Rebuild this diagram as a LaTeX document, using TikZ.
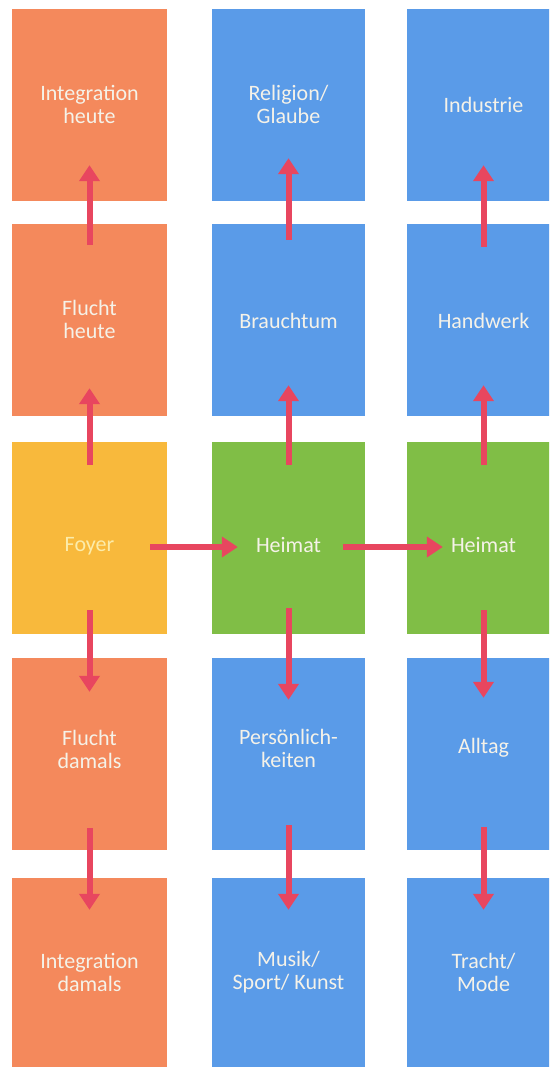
\documentclass[tikz,border=0pt]{standalone}
\usepackage{fontspec}
\setmainfont{Carlito}
\usetikzlibrary{arrows.meta,calc}

\definecolor{boxorange}{RGB}{244,137,92}
\definecolor{boxblue}{RGB}{90,155,232}
\definecolor{boxgreen}{RGB}{128,190,70}
\definecolor{boxyellow}{RGB}{248,185,60}
\definecolor{arrowred}{RGB}{232,70,95}
\definecolor{labelwhite}{RGB}{245,242,232}
\definecolor{labelpale}{RGB}{252,236,170}

\tikzset{
  box/.style={rectangle, draw=none, fill=#1, inner sep=0pt,
              minimum width=153pt, minimum height=192pt},
  txt/.style={text=labelwhite, align=center, inner sep=0pt,
              font=\fontsize{22}{23}\selectfont},
  link/.style={draw=arrowred, line width=6pt,
               -{Triangle[width=20pt,length=16pt]}}
}

\begin{document}
\begin{tikzpicture}[x=1pt,y=-1pt]
  \clip (0,0) rectangle (549,1067);
  \fill[white] (0,0) rectangle (549,1067);

  % left column: Flucht / Integration
  \node[box=boxorange, minimum width=155pt] (ih) at (89.5,105) {};
  \node[box=boxorange, minimum width=155pt] (fh) at (89.5,320) {};
  \node[box=boxyellow, minimum width=155pt] (foyer) at (89.5,537.5) {};
  \node[box=boxorange, minimum width=155pt] (fd) at (89.5,754) {};
  \node[box=boxorange, minimum width=155pt] (id) at (89.5,974) {};

  % middle column
  \node[box=boxblue]  (rg) at (288.5,105) {};
  \node[box=boxblue]  (br) at (288.5,320) {};
  \node[box=boxgreen] (h1) at (288.5,537.5) {};
  \node[box=boxblue]  (pk) at (288.5,754) {};
  \node[box=boxblue]  (ms) at (288.5,974) {};

  % right column (runs past the right edge)
  \node[box=boxblue]  (ind) at (483.5,105) {};
  \node[box=boxblue]  (hw)  at (483.5,320) {};
  \node[box=boxgreen] (h2)  at (483.5,537.5) {};
  \node[box=boxblue]  (al)  at (483.5,754) {};
  \node[box=boxblue]  (tr)  at (483.5,974) {};

  % labels
  \node[txt] (ihT) at (89.5,104) {Integration\\heute};
  \node[txt] (fhT) at (89.5,319) {Flucht\\heute};
  \node[txt, text=labelpale] (foyerT) at (89.5,546) {Foyer};
  \node[txt] (fdT) at (89.5,749) {Flucht\\damals};
  \node[txt] (idT) at (89.5,972) {Integration\\damals};

  \node[txt] (rgT) at (288.5,104) {Religion/\\Glaube};
  \node[txt] (brT) at (288.5,321) {Brauchtum};
  \node[txt] (h1T) at (288.5,545) {Heimat};
  \node[txt] (pkT) at (288.5,748) {Persönlich-\\keiten};
  \node[txt] (msT) at (288.5,972) {Musik/\\Sport/ Kunst};

  \node[txt] (indT) at (483.5,105) {Industrie};
  \node[txt] (hwT)  at (483.5,321) {Handwerk};
  \node[txt] (h2T)  at (483.5,545) {Heimat};
  \node[txt] (alT)  at (483.5,748) {Alltag};
  \node[txt] (trT)  at (483.5,972) {Tracht/\\Mode};

  % upward links
  \draw[link] ($(foyer.north)+(0,23.5)$) -- ($(fh.south)+(0,-28)$);
  \draw[link] ($(fh.north)+(0,21)$) -- ($(ih.south)+(0,-36)$);
  \draw[link] ($(h1.north)+(0,23.5)$) -- ($(br.south)+(0,-31)$);
  \draw[link] ($(br.north)+(0,16)$) -- ($(rg.south)+(0,-43)$);
  \draw[link] ($(h2.north)+(0,23.5)$) -- ($(hw.south)+(0,-31)$);
  \draw[link] ($(hw.north)+(0,23)$) -- ($(ind.south)+(0,-36)$);

  % downward links
  \draw[link] ($(foyer.south)+(0,-23.5)$) -- ($(fd.north)+(0,34)$);
  \draw[link] ($(fd.south)+(0,-22)$) -- ($(id.north)+(0,32)$);
  \draw[link] ($(h1.south)+(0,-25.5)$) -- ($(pk.north)+(0,42)$);
  \draw[link] ($(pk.south)+(0,-25)$) -- ($(ms.north)+(0,32)$);
  \draw[link] ($(h2.south)+(0,-23.5)$) -- ($(al.north)+(0,40)$);
  \draw[link] ($(al.south)+(0,-23)$) -- ($(tr.north)+(0,32)$);

  % sideways links
  \draw[link] ($(foyer.east)+(-17,9.5)$) -- ($(h1.west)+(26,9.5)$);
  \draw[link] ($(h1.east)+(-22,9.5)$) -- ($(h2.west)+(36,9.5)$);
\end{tikzpicture}
\end{document}
